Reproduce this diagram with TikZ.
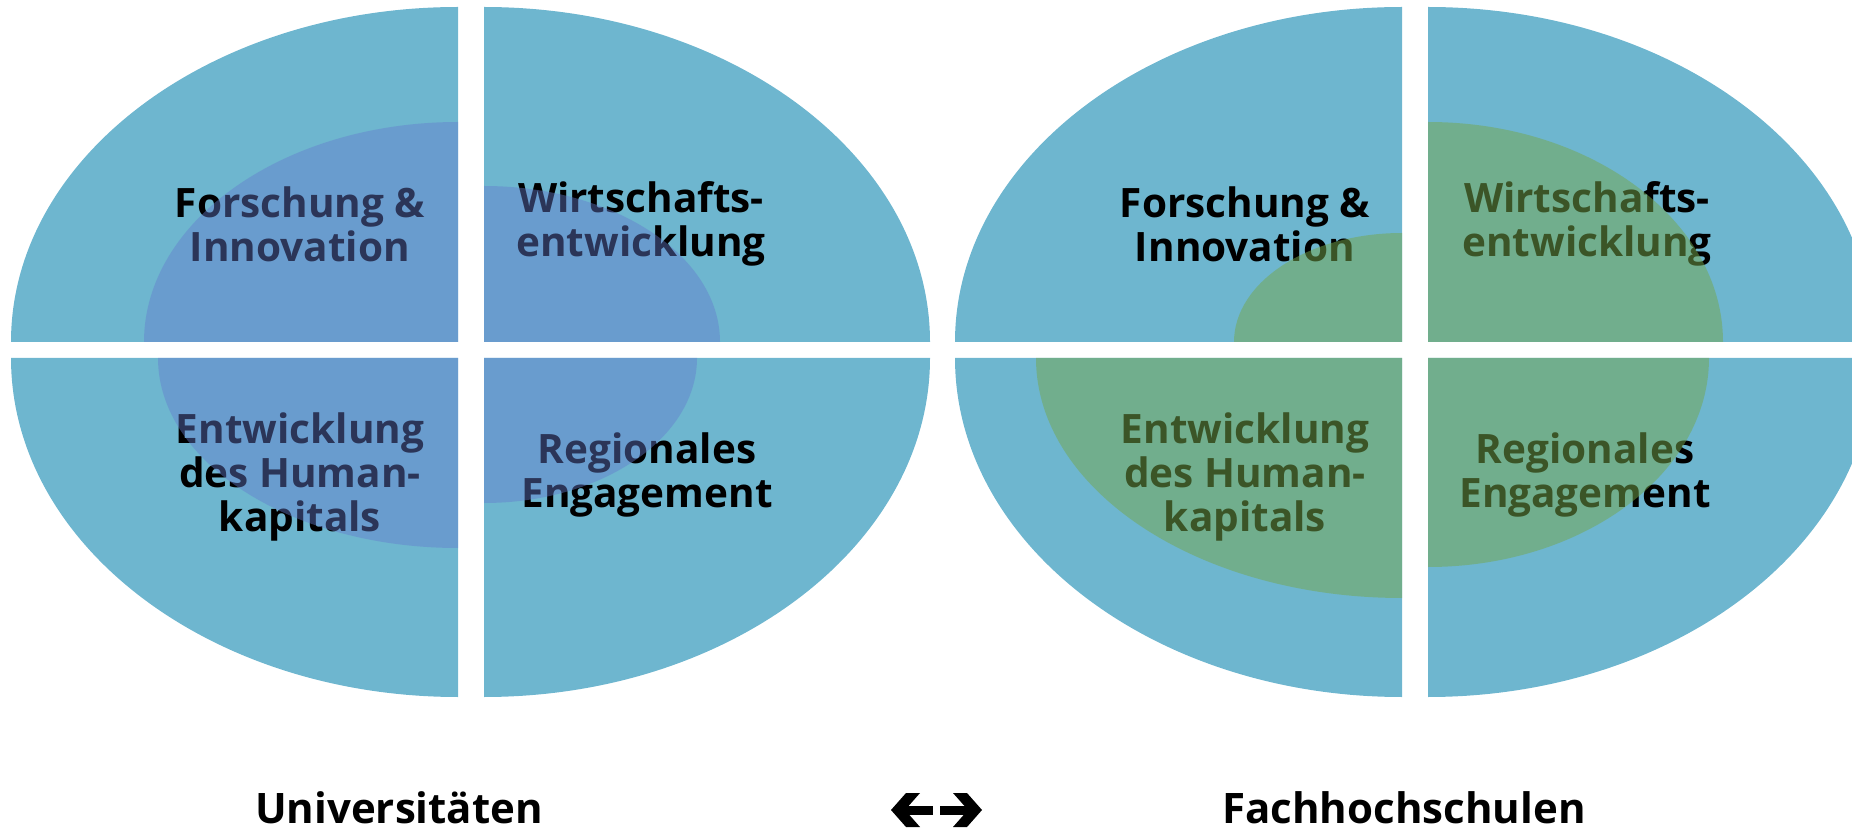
\documentclass[tikz,border=0pt]{standalone}
\usepackage{fontspec}
\setmainfont{Open Sans}
\definecolor{outerblue}{RGB}{110,182,207}
\definecolor{innerblue}{RGB}{100,123,205}
\definecolor{innergreen}{RGB}{116,167,78}
\tikzset{
  outerfill/.style={fill=outerblue},
  inb/.style={fill=innerblue,fill opacity=0.43},
  ing/.style={fill=innergreen,fill opacity=0.51},
  lbl/.style={align=center,font=\bfseries\fontsize{40.5}{44}\selectfont,text=black,inner sep=0pt},
  captxt/.style={anchor=base,font=\bfseries\fontsize{42}{44}\selectfont,text=black,inner sep=0pt},
  arrowshape/.style={fill=black}
}
\begin{document}
\begin{tikzpicture}[x=1pt,y=1pt]
\useasboundingbox (0,0) rectangle (1852,831);
% ---------- left chart: outer quadrants ----------
\fill[outerfill] (458,489) -- ++(-447,0) arc[start angle=180,end angle=90,x radius=447,y radius=335] -- cycle;
\fill[outerfill] (484,489) -- ++(446,0) arc[start angle=0,end angle=90,x radius=446,y radius=335] -- cycle;
\fill[outerfill] (458,473) -- ++(-447,0) arc[start angle=180,end angle=270,x radius=447,y radius=339] -- cycle;
\fill[outerfill] (484,473) -- ++(446,0) arc[start angle=0,end angle=-90,x radius=446,y radius=339] -- cycle;
% ---------- right chart: outer quadrants ----------
\fill[outerfill] (1402,489) -- ++(-447,0) arc[start angle=180,end angle=90,x radius=447,y radius=335] -- cycle;
\fill[outerfill] (1428,489) -- ++(446,0) arc[start angle=0,end angle=90,x radius=446,y radius=335] -- cycle;
\fill[outerfill] (1402,473) -- ++(-447,0) arc[start angle=180,end angle=270,x radius=447,y radius=339] -- cycle;
\fill[outerfill] (1428,473) -- ++(446,0) arc[start angle=0,end angle=-90,x radius=446,y radius=339] -- cycle;
% ---------- labels (under the translucent inner shapes) ----------
\node[lbl] (lfi) at (300,607) {Forschung \&\\Innovation};
\node[lbl] (lwe) at (641,607) {Wirtschafts-\\entwicklung};
\node[lbl] (leh) at (300,354) {Entwicklung\\des Human-\\kapitals};
\node[lbl] (lre) at (647,356) {Regionales\\Engagement};
\node[lbl] (rfi) at (1245,607) {Forschung \&\\Innovation};
\node[lbl] (rwe) at (1587,607) {Wirtschafts-\\entwicklung};
\node[lbl] (reh) at (1245,354) {Entwicklung\\des Human-\\kapitals};
\node[lbl] (rre) at (1585,356) {Regionales\\Engagement};
% ---------- left chart: inner shapes ----------
\fill[inb] (458,489) -- ++(-314,0) arc[start angle=180,end angle=90,x radius=314,y radius=220] -- cycle;
\fill[inb] (484,489) -- ++(236,0) arc[start angle=0,end angle=90,x radius=236,y radius=156] -- cycle;
\fill[inb] (458,473) -- ++(-300,0) arc[start angle=180,end angle=270,x radius=300,y radius=190] -- cycle;
\fill[inb] (484,473) -- ++(213,0) arc[start angle=0,end angle=-90,x radius=213,y radius=145] -- cycle;
% ---------- right chart: inner shapes ----------
\fill[ing] (1402,489) -- ++(-168,0) arc[start angle=180,end angle=90,x radius=168,y radius=109] -- cycle;
\fill[ing] (1428,489) -- ++(295,0) arc[start angle=0,end angle=90,x radius=295,y radius=220] -- cycle;
\fill[ing] (1402,473) -- ++(-366,0) arc[start angle=180,end angle=270,x radius=366,y radius=240] -- cycle;
\fill[ing] (1428,473) -- ++(281,0) arc[start angle=0,end angle=-90,x radius=281,y radius=209] -- cycle;
% ---------- captions ----------
\node[captxt] (uni) at (399,8) {Universitäten};
\node[captxt] (fh) at (1404,8) {Fachhochschulen};
% ---------- double arrow ----------
\coordinate (ltip) at (891,21);
\coordinate (rtip) at (982,21);
\fill[arrowshape] (ltip) -- ++(15,17) -- ++(14,0) -- ++(-15,-17) -- ++(15,-17) -- ++(-14,0) -- cycle;
\fill[arrowshape] ([xshift=12]ltip) ++(0,-4.5) rectangle ++(30,9);
\fill[arrowshape] (rtip) -- ++(-15,17) -- ++(-14,0) -- ++(15,-17) -- ++(-15,-17) -- ++(14,0) -- cycle;
\fill[arrowshape] ([xshift=-12]rtip) ++(0,-4.5) rectangle ++(-30,9);
\end{tikzpicture}
\end{document}
